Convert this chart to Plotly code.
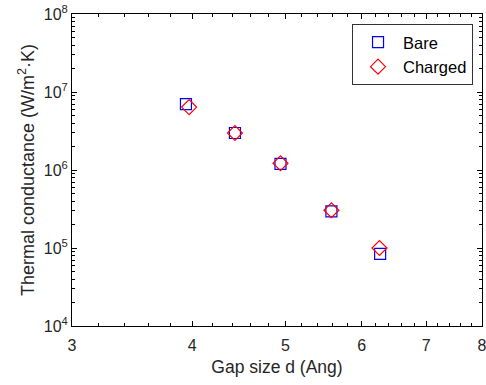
import plotly.graph_objects as go
import numpy as np

gap_bare = [3.94, 4.43, 4.94, 5.58, 6.27]
g_bare = [7.0e6, 2.98e6, 1.2e6, 2.95e5, 8.4e4]
gap_charged = [3.97, 4.43, 4.94, 5.58, 6.26]
g_charged = [6.4e6, 2.98e6, 1.22e6, 3.05e5, 1.0e5]

x_ticks = [3, 4, 5, 6, 7, 8]
y_ticks = [1e4, 1e5, 1e6, 1e7, 1e8]
y_ticktext = ["10<sup>4</sup>", "10<sup>5</sup>", "10<sup>6</sup>", "10<sup>7</sup>", "10<sup>8</sup>"]

x_minor = [round(v, 1) for v in np.arange(3.2, 8.0, 0.2) if abs(v - round(v)) > 1e-6]
y_minor = [m * 10**e for e in range(4, 8) for m in range(2, 10)]

FONT = "Liberation Sans, Arial, sans-serif"
TXT = "#262626"

fig = go.Figure()
fig.add_trace(go.Scatter(x=gap_bare, y=g_bare, mode="markers", name="Bare",
                         marker=dict(symbol="square-open", size=11, color="#0000ff",
                                     line=dict(width=1.2, color="#0000ff"))))
fig.add_trace(go.Scatter(x=gap_charged, y=g_charged, mode="markers", name="Charged",
                         marker=dict(symbol="diamond-open", size=11.5, color="#ff0000",
                                     line=dict(width=1.2, color="#ff0000"))))

axis_common = dict(showgrid=False, zeroline=False, showline=True, linecolor="black",
                   linewidth=1, mirror="ticks", ticks="inside", ticklen=5,
                   tickcolor="black", tickfont=dict(family=FONT, size=16, color=TXT),
                   ticklabeloverflow="allow", automargin=False)

fig.update_layout(
    width=486, height=385,
    margin=dict(l=72, r=4, t=14, b=59),
    plot_bgcolor="white", paper_bgcolor="white",
    font=dict(family=FONT, size=16, color=TXT),
    xaxis=dict(type="log", range=[np.log10(3) - 1e-6, np.log10(8) + 1e-6], tickvals=x_ticks,
               ticktext=[str(v) for v in x_ticks], ticklabelstandoff=5,
               title=dict(text="Gap size d (Ang)", font=dict(family=FONT, size=17.5, color=TXT), standoff=7),
               minor=dict(tickvals=x_minor, ticks="inside", ticklen=3, tickcolor="black"),
               **axis_common),
    yaxis=dict(type="log", range=[4 - 1e-6, 8 + 1e-6], tickvals=y_ticks, ticktext=y_ticktext,
               title=dict(text="Thermal conductance (W/m<sup>2</sup>·K)", font=dict(family=FONT, size=18, color=TXT), standoff=4),
               minor=dict(tickvals=y_minor, ticks="inside", ticklen=3, tickcolor="black"),
               **axis_common),
    legend=dict(x=0.683, y=0.968, xanchor="left", yanchor="top",
                bordercolor="#333333", borderwidth=1, bgcolor="white",
                font=dict(family=FONT, size=16.5, color="black"), tracegroupgap=0,
                itemwidth=40),
    showlegend=True,
)

fig.write_html("out.html")
